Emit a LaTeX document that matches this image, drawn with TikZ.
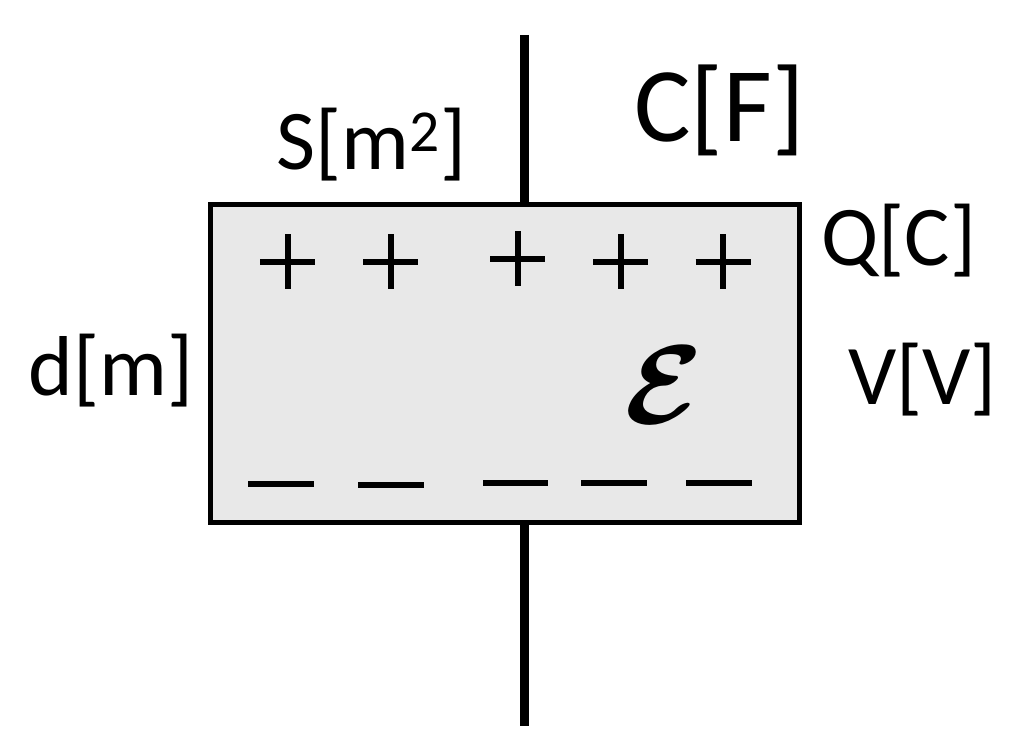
\documentclass[tikz,border=0pt]{standalone}
\usepackage{bm}
\usepackage{fontspec}
\setmainfont{Carlito}
\tikzset{
  lbl/.style={inner sep=0pt, anchor=west, font=\fontsize{42.5}{50}\selectfont},
  biglbl/.style={inner sep=0pt, anchor=west, font=\fontsize{53}{62}\selectfont},
  capbox/.style={draw=black, line width=2.5pt, fill=black!9, rectangle, inner sep=0pt,
    minimum width=294.5pt, minimum height=159pt},
  lead/.style={line width=4.3pt, draw=black},
  chg/.style={line width=3pt, draw=black}
}
\begin{document}
\begin{tikzpicture}[x=0.5pt,y=-0.5pt]
\useasboundingbox (0,0) rectangle (1024,742);
\fill[white] (0,0) rectangle (1024,742);
% capacitor body
\node[capbox] (cap) at (504.5,364) {};
% leads
\coordinate (ltop) at (524.5,35);
\coordinate (lbot) at (524.5,726);
\draw[lead] (ltop) -- (ltop |- cap.north);
\draw[lead] (cap.south -| lbot) -- (lbot);
% plus charges
\foreach \x/\y in {287.5/262, 390.5/262, 517.5/259, 620.5/262, 723/262}{
  \draw[chg] (\x-27.5,\y) -- (\x+27.5,\y) (\x,\y-27.5) -- (\x,\y+27.5);
}
% minus charges
\foreach \a/\b/\y in {248/314/484, 358/424/485, 483/548/483, 581/647/483, 686/752/483}{
  \draw[chg] (\a,\y) -- (\b,\y);
}
% permittivity
\node[inner sep=0pt, font=\Huge, xscale=2.3, yscale=2.25] (eps) at (664,385) {$\bm{\mathcal{E}}$};
% labels
\node[biglbl] (cf) at (634,110) {C[F]};
\node[lbl] (sm) at (276,145) {S[m\textsuperscript{2}]};
\node[lbl] (qc) at (821,241) {Q[C]};
\node[lbl] (vv) at (848,380) {V[V]};
\node[lbl] (dm) at (28,371) {d[m]};
\end{tikzpicture}
\end{document}
